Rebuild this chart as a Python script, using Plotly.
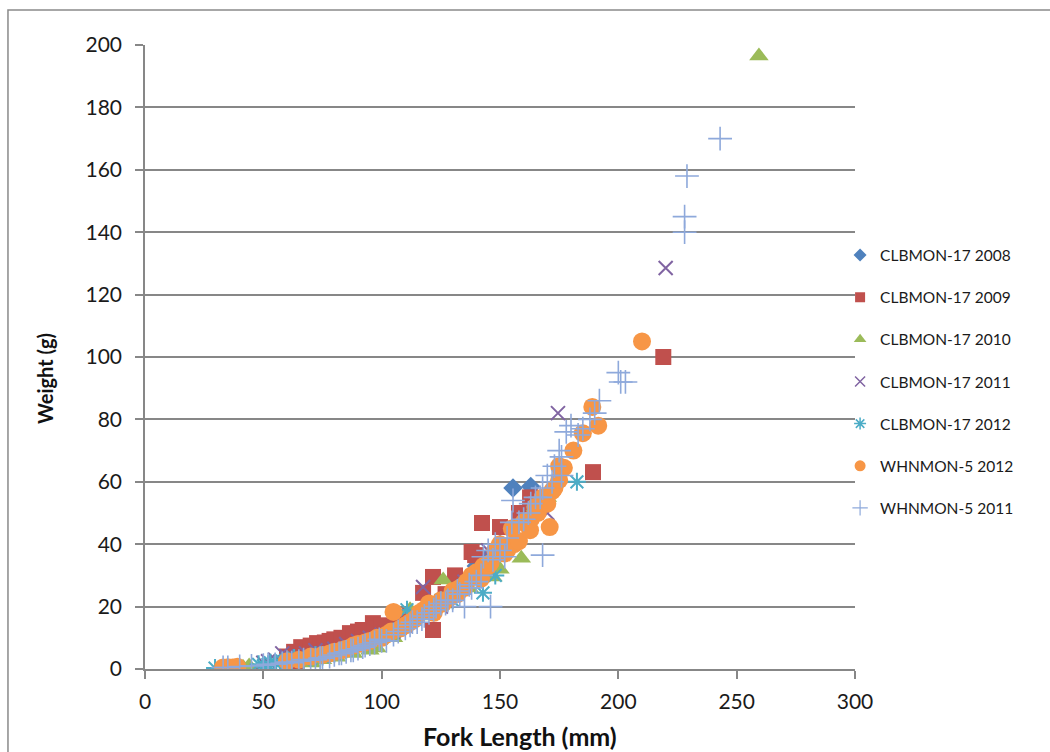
import plotly.graph_objects as go

# ---- data (Fork length mm, Weight g) ----
s2008_len = [100, 120, 125, 132, 140, 145, 150, 155.5, 163]
s2008_wt = [11, 20, 22, 25, 33, 36, 40, 58, 58.5]

s2009_len = [61, 64, 60, 63, 66, 67, 70, 72.7, 74, 76, 78, 80, 83, 86.6, 88, 90, 92, 96.3, 97, 100, 106, 112,
             117.5, 121.7, 121.7, 127, 131, 138, 139.5, 142.4, 150, 158, 162.7, 189.3, 219]
s2009_wt = [0.6, 1.5, 4, 5.5, 7, 6.5, 7.5, 8.3, 8, 8.5, 9, 9.5, 10, 11.5, 11, 12, 12.5, 14.7, 13, 14, 15.5, 17,
            24.4, 29.5, 12.5, 24, 30, 37.5, 36.5, 46.8, 45.5, 50, 55, 63.1, 100]

s2010_len = [36, 41.4, 44, 70.5, 75, 81, 88, 95, 98, 105, 112, 118, 126, 130, 137, 140, 147, 150, 159, 165, 170, 259.4]
s2010_wt = [0.6, 0.6, 1.0, 1.9, 3, 3.8, 5, 6, 6.7, 10, 19, 17, 28.5, 25, 26, 30, 29.5, 32, 35.5, 52, 55, 196.5]

s2011_len = [50, 52, 55, 58, 60, 62, 65, 68, 72, 75, 80, 85, 90, 95, 100, 105, 110, 113, 117.5, 125, 135, 145,
             170, 174.5, 220]
s2011_wt = [2, 2.5, 3, 5, 4, 3, 4, 5, 6, 5, 6.5, 8, 9, 10, 11, 12, 14, 16, 26.3, 20, 28, 38,
            50, 82, 128.5]

s2012_len = [29.6, 48, 50, 52, 53, 55, 57, 58, 60, 62, 63, 65, 67, 70, 72, 75, 78, 80, 85, 92, 100, 105,
             110.7, 125, 130, 135, 142.8, 148, 155, 165, 182.5]
s2012_wt = [0.3, 1.5, 1, 1.5, 2, 2, 2, 2.5, 1.5, 2.5, 3.5, 3, 3, 3.5, 4.5, 4, 5, 5, 6, 8, 10, 12,
            19, 22, 22, 27, 24.4, 30, 40, 52, 60]

wh2012_len = [33, 35, 37, 39, 60, 65, 70, 75, 78, 80, 83, 85, 88, 90, 93, 95, 98, 100, 102, 104, 105, 108, 110,
              112, 114, 116, 118, 120, 122, 123, 125, 126, 129, 130, 132, 133, 135, 136, 138, 140, 142, 143, 145,
              146, 148, 150, 152, 153, 155, 156, 158, 160, 162.7, 163, 165, 166, 168, 170, 171, 172, 173, 175,
              175, 177, 181, 185, 189, 191.5, 210]
wh2012_wt = [0.5, 0.6, 0.5, 0.7, 2.5, 3, 4, 4.5, 5, 5.5, 6, 6.5, 7.5, 8, 8.5, 9, 10, 10, 11, 12, 18.3, 13, 14,
             15, 16, 18, 19, 21, 18, 20, 22, 21, 23, 25, 24, 26, 26, 28, 30, 31, 29, 33, 33,
             34, 38, 40, 37, 38, 45, 40, 41, 47, 44.5, 48, 52, 50, 55, 53, 45.5, 57, 58, 60.6,
             65, 64.5, 70, 75.6, 84, 78, 105]

wh2011_len = [33, 35, 40, 45, 50, 52, 55, 58, 60, 62, 65, 67, 70, 72, 74, 75, 78, 80, 82, 83, 85, 87, 88, 90, 92,
              93, 95, 97, 99, 100, 102, 105, 107, 110, 112, 113, 115, 117, 118, 120, 122, 123, 125, 127, 128, 130,
              132, 133, 135, 137, 138, 140, 142, 143, 145, 146, 147, 148, 150, 152, 153, 155, 155.5, 158, 160,
              162, 163, 165, 167, 168, 168, 170, 172, 173, 175, 176, 176, 178, 180, 183, 185, 188, 190, 192,
              200, 201, 203, 228, 228, 229, 243]
wh2011_wt = [0.5, 0.5, 0.8, 1, 1.2, 1.5, 1.5, 1.8, 2.2, 2, 2.5, 3, 2.8, 3, 3.5, 3.5, 4, 4.5, 5, 5, 5.5, 6, 6, 6.5, 7,
             7.5, 8, 8.5, 9.5, 9, 9, 11, 12, 13, 14, 15, 15, 16, 17, 18, 19, 20, 21, 21, 22, 22,
             25, 24, 20, 27, 26, 28, 30, 36, 38, 20, 35, 40, 38, 36, 42, 47, 54, 47, 48,
             50, 53, 55, 55, 58, 36.5, 62, 60, 65, 70, 68, 62, 76, 78, 75, 77, 80, 82, 86,
             95, 92, 92, 140, 145, 158, 170]

series_names = ["CLBMON-17 2008", "CLBMON-17 2009", "CLBMON-17 2010", "CLBMON-17 2011",
                "CLBMON-17 2012", "WHNMON-5 2012", "WHNMON-5 2011"]

x_ticks = [0, 50, 100, 150, 200, 250, 300]
y_ticks = [0, 20, 40, 60, 80, 100, 120, 140, 160, 180, 200]

# ---- styles ----
styles = [
    dict(symbol="diamond", size=15, color="#4F81BD", line=dict(width=0)),
    dict(symbol="square", size=16, color="#C0504D", line=dict(width=0)),
    dict(symbol="triangle-up", size=17, color="#9BBB59", line=dict(width=0)),
    dict(symbol="x-thin-open", size=14, color="#8064A2", line=dict(width=2, color="#8064A2")),
    dict(symbol="asterisk-open", size=15, color="#4BACC6", line=dict(width=2, color="#4BACC6")),
    dict(symbol="circle", size=18, color="#F79646", line=dict(width=0)),
    dict(symbol="cross-thin-open", size=17, color="#8EA9DB", line=dict(width=1.6, color="#8EA9DB")),
]
legend_styles = [
    dict(symbol="diamond", size=10, color="#4F81BD", line=dict(width=0)),
    dict(symbol="square", size=10, color="#C0504D", line=dict(width=0)),
    dict(symbol="triangle-up", size=11, color="#9BBB59", line=dict(width=0)),
    dict(symbol="x-thin-open", size=10, color="#8064A2", line=dict(width=1.5, color="#8064A2")),
    dict(symbol="asterisk-open", size=10, color="#4BACC6", line=dict(width=1.5, color="#4BACC6")),
    dict(symbol="circle", size=11, color="#F79646", line=dict(width=0)),
    dict(symbol="cross-thin-open", size=11, color="#8EA9DB", line=dict(width=1.2, color="#8EA9DB")),
]

data = [(s2008_len, s2008_wt), (s2009_len, s2009_wt), (s2010_len, s2010_wt),
        (s2011_len, s2011_wt), (s2012_len, s2012_wt), (wh2012_len, wh2012_wt),
        (wh2011_len, wh2011_wt)]

fig = go.Figure()
for i, ((xs, ys), name) in enumerate(zip(data, series_names)):
    fig.add_trace(go.Scatter(x=xs, y=ys, mode="markers", name=name, showlegend=False,
                             marker=styles[i], hoverinfo="x+y+name"))
for i, name in enumerate(series_names):
    fig.add_trace(go.Scatter(x=[None], y=[None], mode="markers", name=name,
                             marker=legend_styles[i], legendgroup=f"g{i}"))

font_fam = "Lato, 'Open Sans', sans-serif"
fig.update_layout(
    width=1050, height=752,
    margin=dict(l=145, r=195, t=45, b=83),
    plot_bgcolor="white", paper_bgcolor="white",
    font=dict(family=font_fam, color="#222222"),
    xaxis=dict(range=[0, 300], tickvals=x_ticks, showgrid=False, zeroline=False,
               showline=True, linecolor="#878787", linewidth=1.5,
               ticks="outside", ticklen=8, tickcolor="#878787", tickwidth=1.5,
               ticklabelstandoff=5,
               tickfont=dict(size=21, family=font_fam, color="#1a1a1a")),
    yaxis=dict(range=[0, 200], tickvals=y_ticks, showgrid=True, gridcolor="#878787", gridwidth=1.5,
               zeroline=False, showline=True, linecolor="#878787", linewidth=1.5,
               ticks="outside", ticklen=8, tickcolor="#878787", tickwidth=1.5,
               ticklabelstandoff=9,
               tickfont=dict(size=21, family=font_fam, color="#1a1a1a")),
    legend=dict(x=0.979, xanchor="left", y=0.69, yanchor="top",
                font=dict(size=15.5, family=font_fam, color="#1a1a1a"),
                tracegroupgap=19, itemwidth=30, bgcolor="rgba(0,0,0,0)"),
    annotations=[
        dict(text="<b>Fork Length (mm)</b>", xref="paper", yref="paper",
             x=(520 - 145) / 710, y=-(736 - 669) / 624, xanchor="center", yanchor="middle",
             showarrow=False, font=dict(size=25, family=font_fam, color="#111111")),
        dict(text="<b>Weight (g)</b>", xref="paper", yref="paper", textangle=-90,
             x=-(145 - 45) / 710, y=(669 - 379) / 624, xanchor="center", yanchor="middle",
             showarrow=False, font=dict(size=20, family=font_fam, color="#111111")),
    ],
    shapes=[dict(type="rect", xref="paper", yref="paper",
                 x0=-0.193, x1=1.4, y0=-0.3, y1=1.056,
                 line=dict(color="#8a8a8a", width=1.5), layer="below")],
)

fig.write_html("out.html")
